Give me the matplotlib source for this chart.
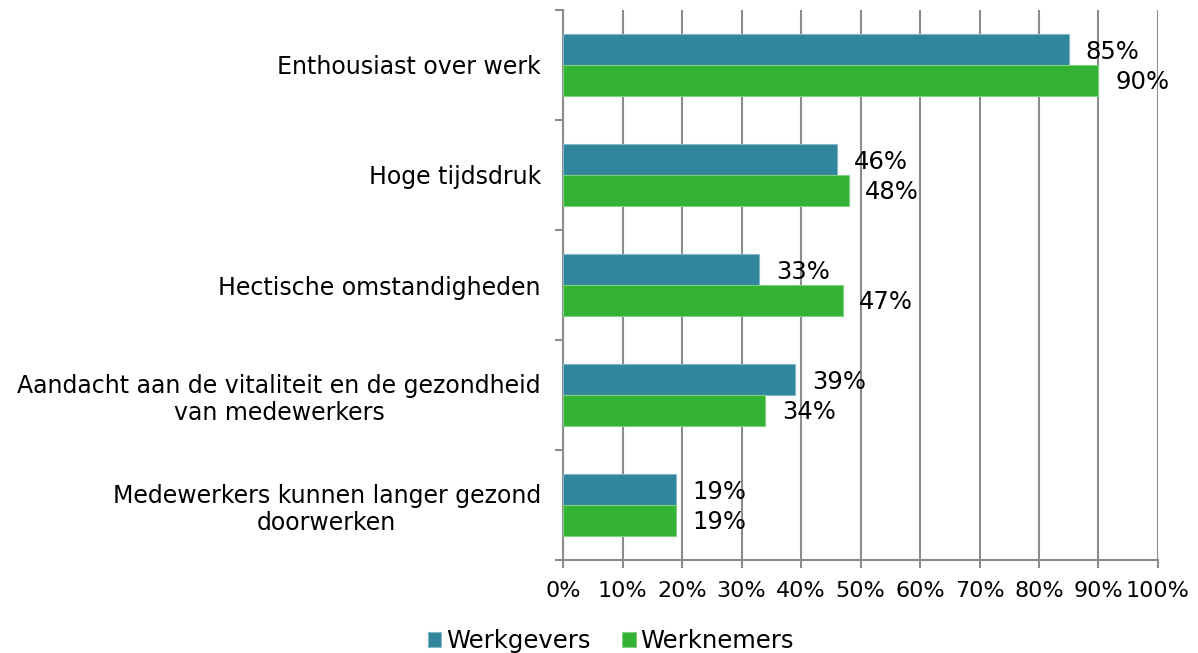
import matplotlib
matplotlib.use('Agg')
import matplotlib.pyplot as plt
import numpy as np

categories = ['Enthousiast over werk',
              'Hoge tijdsdruk',
              'Hectische omstandigheden',
              'Aandacht aan de vitaliteit en de gezondheid\nvan medewerkers',
              'Medewerkers kunnen langer gezond\ndoorwerken']
werkgevers = [85, 46, 33, 39, 19]
werknemers = [90, 48, 47, 34, 19]
series_names = ['Werkgevers', 'Werknemers']
colors = ['#31859C', '#34B233']
edge_colors = ['#7FB8C8', '#7FD07F']

plt.rcParams['font.family'] = ['DejaVu Sans']
fig = plt.figure(figsize=(11.98, 6.53), dpi=100)
ax = fig.add_axes([0.470, 0.1424, 0.4966, 0.8423])

y = np.arange(len(categories))
h = 0.28
bars1 = ax.barh(y - h / 2, werkgevers, height=h, color=colors[0],
                edgecolor=edge_colors[0], linewidth=0.8, label=series_names[0], zorder=3)
bars2 = ax.barh(y + h / 2, werknemers, height=h, color=colors[1],
                edgecolor=edge_colors[1], linewidth=0.8, label=series_names[1], zorder=3)

for bars, vals in [(bars1, werkgevers), (bars2, werknemers)]:
    for b, v in zip(bars, vals):
        ax.annotate(f'{v}%', (b.get_width(), b.get_y() + b.get_height() / 2),
                    xytext=(12, -1.5), textcoords='offset points',
                    va='center', ha='left', fontsize=17.5, color='black', zorder=4)

ax.set_xlim(0, 100)
ax.set_ylim(len(categories) - 0.5, -0.5)
ax.set_xticks(np.arange(0, 101, 10))
ax.set_xticklabels([f'{t}%' for t in range(0, 101, 10)], fontsize=16)
ax.set_yticks(y)
ax.set_yticklabels(categories, fontsize=17, multialignment='center')
ax.set_yticks(np.arange(-0.5, len(categories), 1), minor=True)

ax.tick_params(axis='y', which='major', length=0, pad=16)
ax.tick_params(axis='y', which='minor', length=6, width=1.5, color='#8c8c8c')
ax.tick_params(axis='x', length=6, width=1.5, color='#8c8c8c', pad=9)

ax.grid(axis='x', color='#8c8c8c', linewidth=1.5, zorder=0)
ax.set_axisbelow(True)
for s in ['top', 'right']:
    ax.spines[s].set_visible(False)
for s in ['left', 'bottom']:
    ax.spines[s].set_color('#8c8c8c')
    ax.spines[s].set_linewidth(1.5)

fig.legend(loc='lower center', bbox_to_anchor=(0.51, -0.034), ncol=2, frameon=False,
           fontsize=17.5, handlelength=0.55, handleheight=0.55, handletextpad=0.2,
           columnspacing=1.3)

fig.savefig('out.png', dpi=100)
